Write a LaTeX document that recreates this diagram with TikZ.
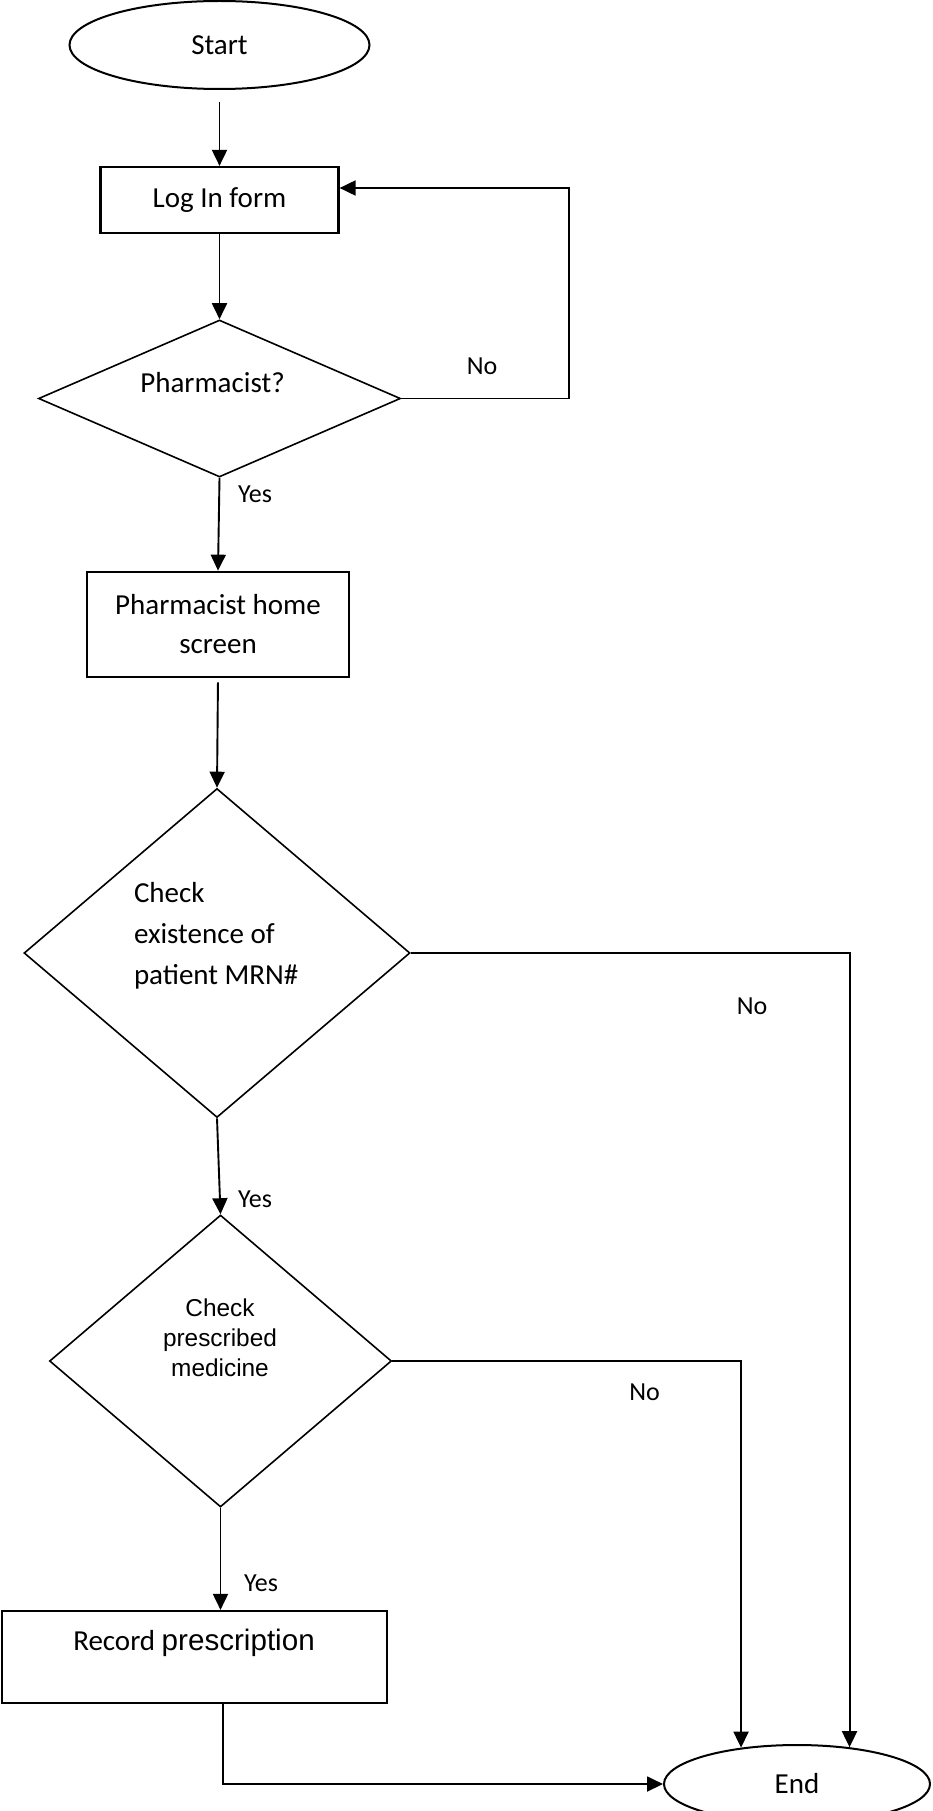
\documentclass[tikz,border=0pt]{standalone}
\usepackage{fontspec}
\setmainfont{Carlito}
\newfontfamily\arialfont{Liberation Sans}
\usepackage{tikz}
\usetikzlibrary{shapes.geometric,arrows.meta}
\tikzset{every picture/.style={line width=2pt}}

\begin{document}
\begin{tikzpicture}[x=1pt,y=1pt,yscale=-1,xscale=1,
  term/.style={draw, ellipse, line width=2pt, inner sep=0pt, font=\fontsize{29}{39}\selectfont},
  procbox/.style={draw, rectangle, line width=2.2pt, inner sep=0pt, align=center, font=\fontsize{29}{39}\selectfont},
  decision/.style={draw, diamond, line width=1.6pt, inner sep=0pt},
  txt/.style={inner sep=0pt, font=\fontsize{29}{41}\selectfont},
  lbl/.style={inner sep=0pt, font=\fontsize{26}{30}\selectfont},
  arr/.style={line width=1.9pt, -{Triangle[length=16pt,width=15pt]}}]
\useasboundingbox (0,0) rectangle (932,1811);

%Shape: Ellipse [start]
\node[term, minimum width=300pt, minimum height=88pt] (start) at (219.5,45) {Start};
%Shape: Rectangle [log in]
\node[procbox, minimum width=238pt, minimum height=66pt] (login) at (219.5,200) {Log In form};
%Shape: Diamond [pharmacist?]
\node[decision, minimum width=362pt, minimum height=157pt] (pharm) at (219.5,398.5) {};
%Shape: Rectangle [home screen]
\node[procbox, minimum width=262pt, minimum height=105.5pt] (home) at (218,624.5) {Pharmacist home\\screen};
%Shape: Diamond [patient MRN]
\node[decision, minimum width=386pt, minimum height=329pt] (patient) at (217,953) {};
%Shape: Diamond [medicine]
\node[decision, minimum width=342pt, minimum height=292pt] (medicine) at (220.5,1361) {};
%Shape: Rectangle [record]
\node[procbox, minimum width=385pt, minimum height=92pt] (record) at (194.5,1657) {};
%Shape: Ellipse [end]
\node[term, minimum width=266pt, minimum height=78pt] (finish) at (797,1784) {End};

\coordinate (loop) at (569,188);
\coordinate (bend) at (223,1786);

%Straight Lines
\draw[arr, shorten <=12pt] (start.south) -- (login.north);
\draw[arr] (login.south) -- (pharm.north);
\draw[arr] (pharm.east) -| (loop) -- (loop -| login.east);
\draw[arr] (pharm.south) -- (home.north);
\draw[arr, shorten <=4pt] (home.south) -- (patient.north);
\draw[arr] (patient.east) -| (finish.35);
\draw[arr] (patient.south) -- (medicine.north);
\draw[arr] (medicine.east) -| (finish.147);
\draw[arr] (medicine.south) -- (medicine.south |- record.north);
\draw[arr] (record.south -| bend) |- (finish.west);

% Text Node
\node[txt] (pharmtxt) at (212.5,383) {Pharmacist?};
% Text Node
\node[txt, align=left, anchor=west] (patienttxt) at (133,936) {Check\\existence of\\patient MRN\#};
% Text Node
\node[inner sep=0pt, align=center, font=\arialfont\fontsize{24.4}{30}\selectfont] (medtxt) at (220,1338) {Check\\prescribed\\medicine};
% Text Node
\node[txt] (recordtxt) at (194,1643) {Record {\arialfont\fontsize{29.6}{36}\selectfont prescription}};

% Text Node
\node[lbl] (no1) at (482,366) {No};
% Text Node
\node[lbl] (yes1) at (255,494) {Yes};
% Text Node
\node[lbl] (no2) at (752,1006) {No};
% Text Node
\node[lbl] (yes2) at (255,1199) {Yes};
% Text Node
\node[lbl] (no3) at (644.5,1392) {No};
% Text Node
\node[lbl] (yes3) at (261,1583) {Yes};

\end{tikzpicture}
\end{document}
